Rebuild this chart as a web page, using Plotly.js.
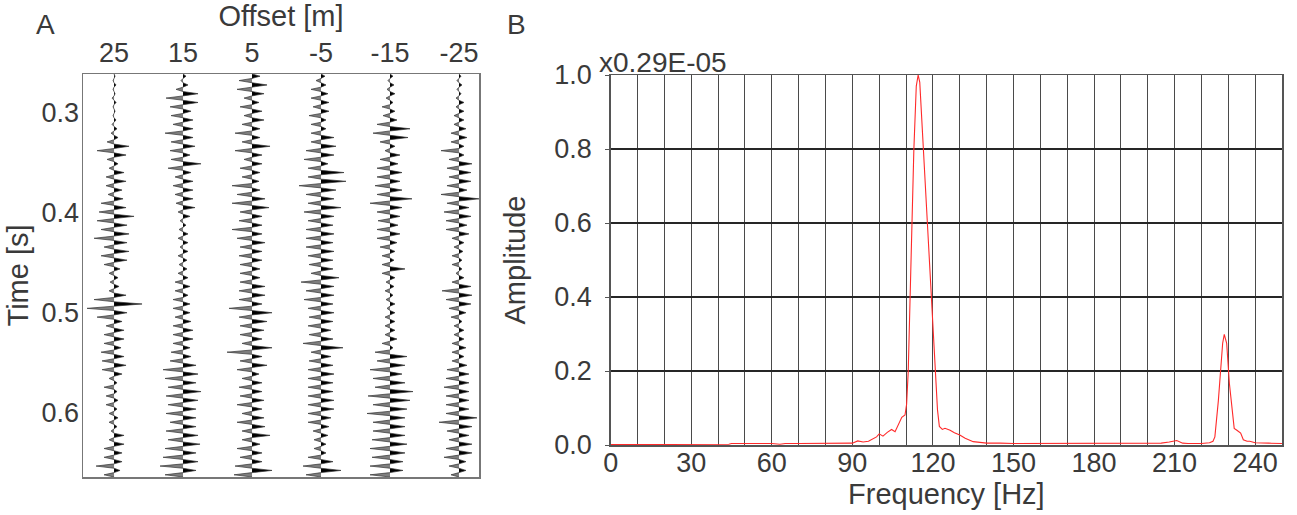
<!DOCTYPE html>
<html>
<head>
<meta charset="utf-8">
<script src="https://cdn.plot.ly/plotly-3.0.1.min.js"></script>
<style>html,body{margin:0;padding:0;background:#fff;}#chart{width:1297px;height:515px;}</style>
</head>
<body>
<div id="chart"></div>
<script>
// ---------- Panel A: wiggle traces (offsets in m, lobe amplitudes, px of deflection) ----------
const offsets = [25, 15, 5, -5, -15, -25];
const offsetLabels = ['25', '15', '5', '-5', '-15', '-25'];
const timeTicks = [0.3, 0.4, 0.5, 0.6];
const timeStart = 0.262;
const timeEnd = 0.664;

// alternating lobe peaks per cycle: positive = black lobe, negative = grey lobe
const trace25 = [1,-1, 2,-1, 1,-2, 2,-1, 1,-1, 2,-2, 3,-3, 4,-7, 15,-17, 12,-7,
  4,-5, 10,-8, 12,-8, 8,-6, 9,-13, 12,-15, 20,-17, 13,-13, 15,-20, 13,-10,
  15,-13, 13,-10, 6,-5, 4,-4, 5,-5, 12,-20, 28,-27, 13,-17, 8,-8, 10,-10,
  10,-10, 7,-13, 10,-12, 12,-12, 8,-5, 3,-10, 3,-8, 4,-8, 3,-5, 4,-5,
  3,-3, 10,-5, 10,-10, 8,-10, 8,-18, 6,-10];
const trace15 = [3,-2, 5,-7, 15,-17, 15,-13, 8,-12, 10,-10, 10,-18, 10,-12, 12,-13, 7,-12,
  18,-15, 8,-8, 10,-10, 10,-8, 10,-7, 12,-5, 7,-3, 3,-4, 5,-5, 5,-3,
  5,-5, 4,-4, 4,-5, 5,-8, 7,-8, 5,-10, 7,-10, 7,-8, 8,-10, 10,-10,
  10,-10, 7,-12, 8,-13, 13,-20, 15,-18, 13,-15, 18,-17, 15,-15, 13,-17, 13,-13,
  13,-17, 15,-15, 17,-18, 13,-20, 15,-23, 13,-18];
const trace5 = [8,-13, 15,-15, 12,-8, 7,-12, 10,-8, 12,-10, 8,-17, 8,-10, 18,-17, 10,-8,
  10,-12, 8,-10, 7,-20, 8,-15, 13,-20, 17,-12, 10,-13, 10,-20, 10,-15, 13,-12,
  10,-13, 10,-12, 8,-12, 8,-12, 13,-13, 13,-13, 10,-23, 20,-13, 15,-12, 12,-12,
  10,-10, 20,-25, 10,-12, 15,-15, 7,-10, 10,-13, 10,-12, 12,-15, 10,-10, 12,-15,
  13,-10, 18,-10, 8,-15, 10,-12, 10,-17, 20,-18];
const traceM5 = [4,-5, 5,-10, 7,-10, 8,-8, 8,-12, 5,-10, 5,-10, 13,-10, 15,-15, 13,-17,
  7,-13, 23,-13, 25,-22, 15,-15, 13,-13, 20,-17, 13,-13, 12,-15, 13,-15, 12,-15,
  13,-13, 12,-12, 12,-10, 18,-20, 13,-15, 13,-17, 12,-13, 13,-12, 12,-13, 10,-12,
  12,-18, 22,-10, 10,-12, 12,-13, 13,-13, 12,-13, 12,-13, 13,-13, 13,-13, 10,-13,
  8,-8, 7,-7, 5,-7, 5,-13, 12,-18, 20,-15];
const traceM15 = [3,-2, 4,-3, 5,-4, 3,-8, 5,-7, 7,-13, 20,-17, 18,-10, 5,-5, 10,-10,
  8,-13, 12,-13, 10,-15, 12,-13, 22,-20, 12,-13, 10,-12, 8,-13, 10,-13, 7,-10,
  5,-8, 4,-8, 15,-8, 5,-4, 4,-5, 3,-4, 5,-3, 5,-5, 5,-5, 5,-5,
  7,-8, 3,-15, 17,-13, 15,-20, 12,-17, 15,-15, 23,-22, 20,-17, 17,-23, 15,-17,
  15,-17, 15,-18, 17,-20, 15,-18, 13,-20, 13,-20];
const traceM25 = [2,-2, 3,-2, 2,-3, 5,-3, 5,-5, 5,-5, 7,-8, 8,-8, 5,-18, 5,-10,
  13,-12, 12,-10, 12,-12, 8,-18, 20,-12, 10,-15, 12,-13, 8,-13, 10,-7, 5,-5,
  4,-7, 3,-7, 3,-3, 5,-7, 12,-17, 13,-13, 12,-10, 7,-8, 3,-5, 5,-5,
  5,-7, 7,-7, 5,-7, 8,-12, 10,-13, 10,-15, 10,-13, 10,-13, 10,-13, 18,-20,
  13,-12, 10,-10, 13,-13, 13,-15, 7,-10, 7,-8];
const traceData = [trace25, trace15, trace5, traceM5, traceM15, traceM25];

// ---------- Panel B: amplitude spectrum ----------
const freqHz = [0, 10, 20, 30, 40, 44, 45, 50, 52, 55,
  60, 63, 65, 70, 75, 80, 81, 85, 90, 92,
  94, 96, 98, 99, 100, 101.4, 103, 104.6, 105.9, 107,
  108.4, 109.6, 110.2, 110.8, 111.5, 112.1, 112.9, 113.8, 114.5, 115.1,
  116.4, 117.9, 119.4, 120.8, 121.7, 122.4, 123.5, 124.5, 126.4, 128,
  130, 132, 135, 140, 144, 145, 150, 160, 170, 172,
  175, 180, 190, 200, 205, 208, 210.8, 213, 215, 220,
  223, 224.3, 225, 226.3, 227.2, 227.9, 228.5, 229.4, 230.4, 231.3,
  232.2, 233.2, 234.6, 235.6, 237, 238, 240, 245, 250];
const amplitude = [0.001, 0.001, 0.001, 0.001, 0.001, 0.002, 0.004, 0.004, 0.006, 0.004,
  0.004, 0.002, 0.004, 0.004, 0.004, 0.004, 0.006, 0.004, 0.005, 0.011,
  0.008, 0.010, 0.018, 0.022, 0.030, 0.024, 0.034, 0.042, 0.036, 0.055,
  0.075, 0.081, 0.110, 0.198, 0.399, 0.599, 0.799, 0.970, 1.000, 0.980,
  0.799, 0.599, 0.399, 0.198, 0.095, 0.050, 0.042, 0.045, 0.040, 0.033,
  0.027, 0.018, 0.009, 0.005, 0.006, 0.005, 0.004, 0.004, 0.004, 0.006,
  0.004, 0.005, 0.005, 0.004, 0.005, 0.008, 0.012, 0.005, 0.004, 0.004,
  0.006, 0.010, 0.022, 0.120, 0.210, 0.275, 0.299, 0.275, 0.167, 0.095,
  0.045, 0.040, 0.032, 0.014, 0.010, 0.010, 0.006, 0.005, 0.004];
const ampTicks = [0, 0.2, 0.4, 0.6, 0.8, 1.0];
const ampTickText = ['0.0', '0.2', '0.4', '0.6', '0.8', '1.0'];
const freqTicks = [0, 30, 60, 90, 120, 150, 180, 210, 240];

// ---------- build ----------
const AMP_SCALE = 10 / 69;   // deflection units -> metres of offset axis
const traces = [];
traceData.forEach(function (vals, i) {
  const off = offsets[i];
  const nCycles = vals.length / 2;
  const P = (timeEnd - timeStart) / nCycles;
  const bx = [], by = [], gx = [], gy = [], lx = [], ly = [];
  for (let k = 0; k < nCycles; k++) {
    const b = vals[2 * k], g = vals[2 * k + 1];
    const t = timeStart + k * P;
    bx.push(off, off - b * AMP_SCALE, off); by.push(t, t + P / 4, t + P / 2);
    gx.push(off, off - g * AMP_SCALE, off); gy.push(t + P / 2, t + 3 * P / 4, t + P);
    lx.push(off, off - b * AMP_SCALE, off, off - g * AMP_SCALE);
    ly.push(t, t + P / 4, t + P / 2, t + 3 * P / 4);
  }
  lx.push(off); ly.push(timeEnd);
  traces.push({x: gx, y: gy, xaxis: 'x', yaxis: 'y', type: 'scatter', mode: 'lines',
    fill: 'toself', fillcolor: '#7f7f7f', line: {width: 0, color: '#7f7f7f'}, hoverinfo: 'skip'});
  traces.push({x: bx, y: by, xaxis: 'x', yaxis: 'y', type: 'scatter', mode: 'lines',
    fill: 'toself', fillcolor: '#000000', line: {width: 0, color: '#000'}, hoverinfo: 'skip'});
  traces.push({x: lx, y: ly, xaxis: 'x', yaxis: 'y', type: 'scatter', mode: 'lines',
    line: {width: 0.7, color: '#333'}, hoverinfo: 'skip'});
});
traces.push({x: freqHz, y: amplitude, xaxis: 'x2', yaxis: 'y2', type: 'scatter', mode: 'lines',
  line: {color: '#ff2a2a', width: 1.1}, hoverinfo: 'skip'});

const W = 1297, H = 515;
const FAM = 'Liberation Sans, Arial, Helvetica, sans-serif';
const tickFont = {family: FAM, size: 27, color: '#3a3a3a'};
const titleFont = {family: FAM, size: 29, color: '#3a3a3a'};
const layout = {
  width: W, height: H,
  margin: {l: 0, r: 0, t: 0, b: 0},
  paper_bgcolor: '#fff', plot_bgcolor: '#fff',
  showlegend: false,
  font: tickFont,
  xaxis: {
    domain: [83 / W, 479 / W], anchor: 'y', side: 'top',
    range: [29.5, -27.9],
    tickmode: 'array', tickvals: offsets, ticktext: offsetLabels,
    ticks: '', showgrid: false, zeroline: false,
    showline: true, mirror: true, linecolor: '#777', linewidth: 1.5,
    tickfont: tickFont,
    title: {text: 'Offset [m]', font: titleFont, standoff: 2}
  },
  yaxis: {
    domain: [1 - 477 / H, 1 - 74 / H], anchor: 'x',
    range: [timeEnd, timeStart],
    tickmode: 'array', tickvals: timeTicks, ticktext: timeTicks.map(v => v.toFixed(1)),
    ticks: '', showgrid: false, zeroline: false, ticklabelstandoff: -3,
    showline: true, mirror: true, linecolor: '#777', linewidth: 1.5,
    tickfont: tickFont,
    title: {text: 'Time [s]', font: titleFont, standoff: 4}
  },
  xaxis2: {
    domain: [610.7 / W, 1282 / W], anchor: 'y2',
    range: [0, 250],
    tickmode: 'array', tickvals: freqTicks, ticktext: freqTicks.map(String),
    ticks: '', showgrid: false, zeroline: false, ticklabelstandoff: -7,
    minor: {tickmode: 'linear', tick0: 0, dtick: 10, showgrid: true, gridcolor: '#4a4a4a', gridwidth: 1, ticks: ''},
    showline: true, mirror: true, linecolor: '#555', linewidth: 1.5,
    tickfont: tickFont,
    title: {text: 'Frequency [Hz]', font: titleFont, standoff: 2}
  },
  xaxis3: {
    domain: [610.7 / W, 1282 / W], anchor: 'y2', overlaying: 'x2',
    range: [0, 250], tickmode: 'linear', tick0: 0, dtick: 20,
    ticks: 'outside', ticklen: 5, tickcolor: '#555', showticklabels: false,
    showgrid: false, zeroline: false, showline: false
  },
  yaxis2: {
    domain: [1 - 445 / H, 1 - 75 / H], anchor: 'x2',
    range: [0, 1],
    tickmode: 'array', tickvals: ampTicks, ticktext: ampTickText,
    ticks: 'outside', ticklen: 4, tickcolor: '#555', ticklabelstandoff: 8,
    showgrid: true, gridcolor: '#262626', gridwidth: 1.4, zeroline: false,
    showline: true, mirror: true, linecolor: '#555', linewidth: 1.5,
    tickfont: tickFont,
    title: {text: 'Amplitude', font: titleFont, standoff: 20}
  },
  annotations: [
    {text: 'A', xref: 'paper', yref: 'paper', x: 45 / W, y: 1 - 25 / H, xanchor: 'center', yanchor: 'middle', showarrow: false, font: {family: FAM, size: 28, color: '#3a3a3a'}},
    {text: 'B', xref: 'paper', yref: 'paper', x: 516 / W, y: 1 - 25 / H, xanchor: 'center', yanchor: 'middle', showarrow: false, font: {family: FAM, size: 28, color: '#3a3a3a'}},
    {text: 'x0.29E-05', xref: 'paper', yref: 'paper', x: 597 / W, y: 1 - 62 / H, xanchor: 'left', yanchor: 'middle', showarrow: false, font: {family: FAM, size: 28, color: '#3a3a3a'}}
  ]
};
Plotly.newPlot('chart', traces, layout, {staticPlot: true, displayModeBar: false});
</script>
</body>
</html>
